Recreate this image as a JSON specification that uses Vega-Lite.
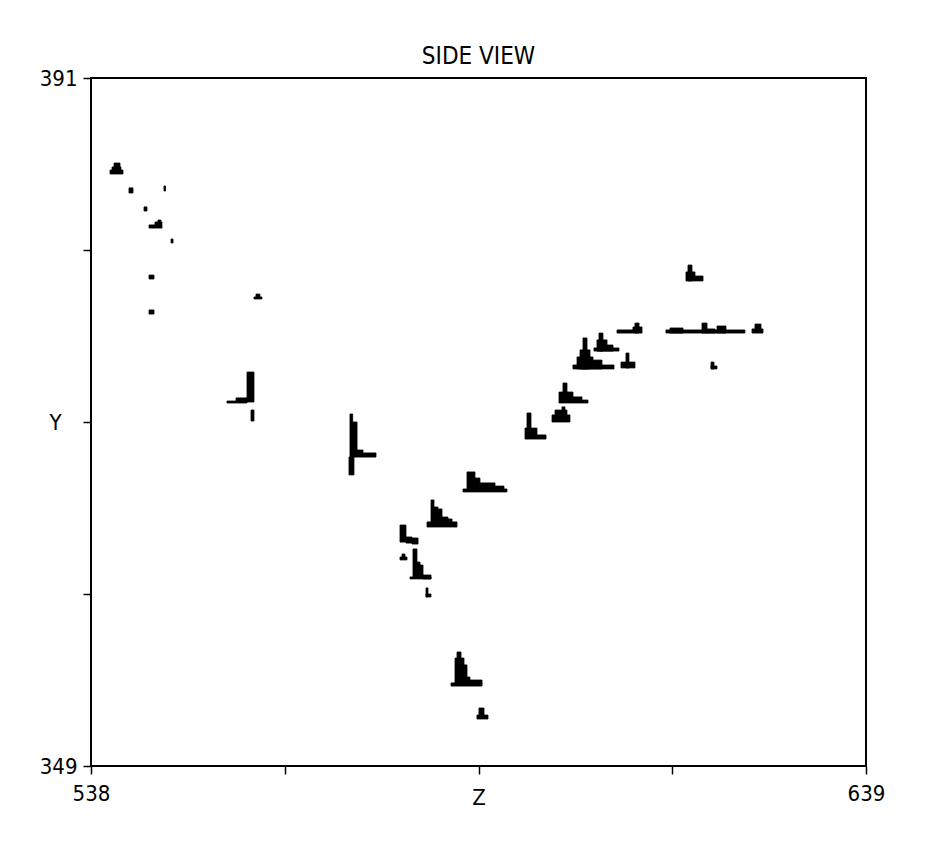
{
  "$schema": "https://vega.github.io/schema/vega-lite/v6.json",
  "autosize": "none",
  "width": 775,
  "height": 688,
  "padding": {"left": 91, "top": 78, "right": 66, "bottom": 76},
  "background": "white",
  "title": {"text": "SIDE VIEW", "font": "DejaVu Sans Condensed, Liberation Sans, sans-serif", "fontSize": 24, "fontWeight": "normal", "color": "black", "offset": -2, "anchor": "middle"},
  "config": {
    "view": {"stroke": "black", "strokeWidth": 2},
    "axis": {"grid": false, "domain": false, "tickColor": "black", "tickWidth": 1.5, "tickSize": 8, "labelFont": "DejaVu Sans Condensed, Liberation Sans, sans-serif", "labelFontSize": 22, "labelColor": "black", "title": null}
  },
  "data": {"values": [
    {"z": 540.48, "z2": 542.17, "y": 385.14, "y2": 385.38},
    {"z": 540.74, "z2": 541.91, "y": 385.38, "y2": 385.57},
    {"z": 541.00, "z2": 541.78, "y": 385.57, "y2": 385.81},
    {"z": 542.95, "z2": 543.47, "y": 383.98, "y2": 384.29},
    {"z": 547.51, "z2": 547.71, "y": 384.10, "y2": 384.41},
    {"z": 544.91, "z2": 545.30, "y": 382.88, "y2": 383.13},
    {"z": 545.56, "z2": 547.25, "y": 381.84, "y2": 382.03},
    {"z": 546.34, "z2": 547.25, "y": 382.03, "y2": 382.21},
    {"z": 546.73, "z2": 547.12, "y": 382.21, "y2": 382.33},
    {"z": 548.43, "z2": 548.69, "y": 380.93, "y2": 381.17},
    {"z": 545.56, "z2": 546.21, "y": 378.73, "y2": 378.97},
    {"z": 559.24, "z2": 560.28, "y": 377.51, "y2": 377.63},
    {"z": 559.50, "z2": 560.02, "y": 377.63, "y2": 377.81},
    {"z": 545.56, "z2": 546.21, "y": 376.59, "y2": 376.84},
    {"z": 558.33, "z2": 559.24, "y": 371.22, "y2": 373.05},
    {"z": 556.90, "z2": 558.33, "y": 371.16, "y2": 371.47},
    {"z": 555.72, "z2": 556.90, "y": 371.16, "y2": 371.28},
    {"z": 558.85, "z2": 559.24, "y": 370.06, "y2": 370.73},
    {"z": 571.75, "z2": 572.10, "y": 370.00, "y2": 370.49},
    {"z": 571.75, "z2": 572.67, "y": 367.86, "y2": 370.00},
    {"z": 572.67, "z2": 573.45, "y": 367.86, "y2": 368.29},
    {"z": 573.45, "z2": 575.14, "y": 367.86, "y2": 368.11},
    {"z": 571.62, "z2": 572.27, "y": 366.77, "y2": 367.86},
    {"z": 586.48, "z2": 592.21, "y": 365.73, "y2": 365.91},
    {"z": 587.00, "z2": 588.04, "y": 365.91, "y2": 366.95},
    {"z": 588.04, "z2": 588.69, "y": 365.91, "y2": 366.58},
    {"z": 588.69, "z2": 590.65, "y": 365.91, "y2": 366.28},
    {"z": 590.65, "z2": 591.82, "y": 365.91, "y2": 366.09},
    {"z": 581.79, "z2": 585.70, "y": 363.59, "y2": 363.90},
    {"z": 582.31, "z2": 582.70, "y": 363.90, "y2": 365.24},
    {"z": 582.70, "z2": 583.22, "y": 363.90, "y2": 364.81},
    {"z": 583.22, "z2": 583.74, "y": 363.90, "y2": 364.69},
    {"z": 583.74, "z2": 584.52, "y": 363.90, "y2": 364.20},
    {"z": 584.52, "z2": 585.05, "y": 363.90, "y2": 364.08},
    {"z": 578.27, "z2": 579.05, "y": 362.67, "y2": 363.71},
    {"z": 579.05, "z2": 579.83, "y": 362.61, "y2": 362.98},
    {"z": 579.83, "z2": 580.62, "y": 362.55, "y2": 362.92},
    {"z": 578.27, "z2": 579.18, "y": 361.58, "y2": 361.76},
    {"z": 578.53, "z2": 578.92, "y": 361.76, "y2": 361.94},
    {"z": 579.96, "z2": 580.48, "y": 360.54, "y2": 362.25},
    {"z": 580.48, "z2": 580.88, "y": 360.54, "y2": 361.45},
    {"z": 580.88, "z2": 581.27, "y": 360.54, "y2": 361.27},
    {"z": 581.27, "z2": 582.31, "y": 360.42, "y2": 360.66},
    {"z": 579.57, "z2": 582.31, "y": 360.42, "y2": 360.54},
    {"z": 581.66, "z2": 581.92, "y": 359.32, "y2": 359.87},
    {"z": 581.66, "z2": 582.31, "y": 359.32, "y2": 359.50},
    {"z": 585.70, "z2": 586.22, "y": 354.01, "y2": 355.96},
    {"z": 585.44, "z2": 585.70, "y": 354.01, "y2": 355.59},
    {"z": 586.22, "z2": 586.61, "y": 354.01, "y2": 355.59},
    {"z": 586.61, "z2": 587.00, "y": 354.01, "y2": 355.17},
    {"z": 587.00, "z2": 587.39, "y": 354.01, "y2": 354.43},
    {"z": 587.39, "z2": 588.96, "y": 354.01, "y2": 354.25},
    {"z": 584.92, "z2": 588.96, "y": 353.88, "y2": 354.07},
    {"z": 588.30, "z2": 589.74, "y": 351.87, "y2": 352.11},
    {"z": 588.56, "z2": 589.22, "y": 352.11, "y2": 352.54},
    {"z": 594.82, "z2": 595.34, "y": 369.33, "y2": 370.55},
    {"z": 594.56, "z2": 596.12, "y": 368.96, "y2": 369.63},
    {"z": 596.12, "z2": 597.30, "y": 368.96, "y2": 369.21},
    {"z": 598.08, "z2": 600.42, "y": 370.00, "y2": 370.43},
    {"z": 598.47, "z2": 600.03, "y": 370.43, "y2": 370.73},
    {"z": 599.38, "z2": 599.77, "y": 370.73, "y2": 370.92},
    {"z": 599.51, "z2": 600.03, "y": 371.34, "y2": 372.38},
    {"z": 598.99, "z2": 600.81, "y": 371.16, "y2": 371.83},
    {"z": 600.81, "z2": 601.99, "y": 371.16, "y2": 371.53},
    {"z": 601.99, "z2": 602.77, "y": 371.16, "y2": 371.34},
    {"z": 602.12, "z2": 602.64, "y": 373.24, "y2": 375.13},
    {"z": 601.73, "z2": 603.03, "y": 373.24, "y2": 374.40},
    {"z": 601.34, "z2": 603.42, "y": 373.24, "y2": 373.97},
    {"z": 603.42, "z2": 604.59, "y": 373.24, "y2": 373.78},
    {"z": 600.81, "z2": 606.16, "y": 373.24, "y2": 373.48},
    {"z": 604.20, "z2": 604.72, "y": 374.33, "y2": 375.43},
    {"z": 603.94, "z2": 605.25, "y": 374.33, "y2": 375.01},
    {"z": 605.25, "z2": 606.03, "y": 374.33, "y2": 374.70},
    {"z": 603.55, "z2": 606.81, "y": 374.33, "y2": 374.52},
    {"z": 607.72, "z2": 608.11, "y": 373.30, "y2": 374.21},
    {"z": 607.07, "z2": 608.89, "y": 373.30, "y2": 373.66},
    {"z": 606.55, "z2": 608.63, "y": 375.43, "y2": 375.62},
    {"z": 608.89, "z2": 609.42, "y": 375.43, "y2": 376.04},
    {"z": 608.63, "z2": 609.81, "y": 375.43, "y2": 375.80},
    {"z": 612.93, "z2": 623.23, "y": 375.43, "y2": 375.62},
    {"z": 617.63, "z2": 618.28, "y": 375.43, "y2": 376.04},
    {"z": 613.46, "z2": 615.15, "y": 375.43, "y2": 375.74},
    {"z": 619.58, "z2": 620.75, "y": 375.43, "y2": 375.86},
    {"z": 618.28, "z2": 619.32, "y": 375.43, "y2": 375.68},
    {"z": 624.14, "z2": 625.58, "y": 375.43, "y2": 375.68},
    {"z": 624.53, "z2": 625.32, "y": 375.68, "y2": 375.98},
    {"z": 618.80, "z2": 619.19, "y": 373.24, "y2": 373.66},
    {"z": 618.80, "z2": 619.58, "y": 373.24, "y2": 373.42},
    {"z": 615.80, "z2": 616.32, "y": 378.61, "y2": 379.58},
    {"z": 615.54, "z2": 616.71, "y": 378.61, "y2": 379.16},
    {"z": 616.71, "z2": 617.76, "y": 378.61, "y2": 378.91}
  ]},
  "mark": {"type": "rect", "color": "black", "stroke": "black", "strokeWidth": 0.8},
  "encoding": {
    "x": {"field": "z", "type": "quantitative", "scale": {"domain": [538, 639], "nice": false, "zero": false},
      "axis": {"values": [538, 563.25, 588.5, 613.75, 639], "labelExpr": "datum.value == 538 ? '538' : datum.value == 639 ? '639' : datum.value == 588.5 ? 'Z' : ''", "labelPadding": {"condition": {"test": "datum.value == 588.5", "value": 13}, "value": 9}, "labelFlush": false, "labelOverlap": false}},
    "x2": {"field": "z2"},
    "y": {"field": "y", "type": "quantitative", "scale": {"domain": [349, 391], "nice": false, "zero": false},
      "axis": {"values": [349, 359.5, 370, 380.5, 391], "labelExpr": "datum.value == 391 ? '391' : datum.value == 349 ? '349' : datum.value == 370 ? 'Y' : ''", "labelPadding": {"condition": {"test": "datum.value == 370", "value": 22}, "value": 6}, "labelFlush": false, "labelOverlap": false}},
    "y2": {"field": "y2"}
  }
}
